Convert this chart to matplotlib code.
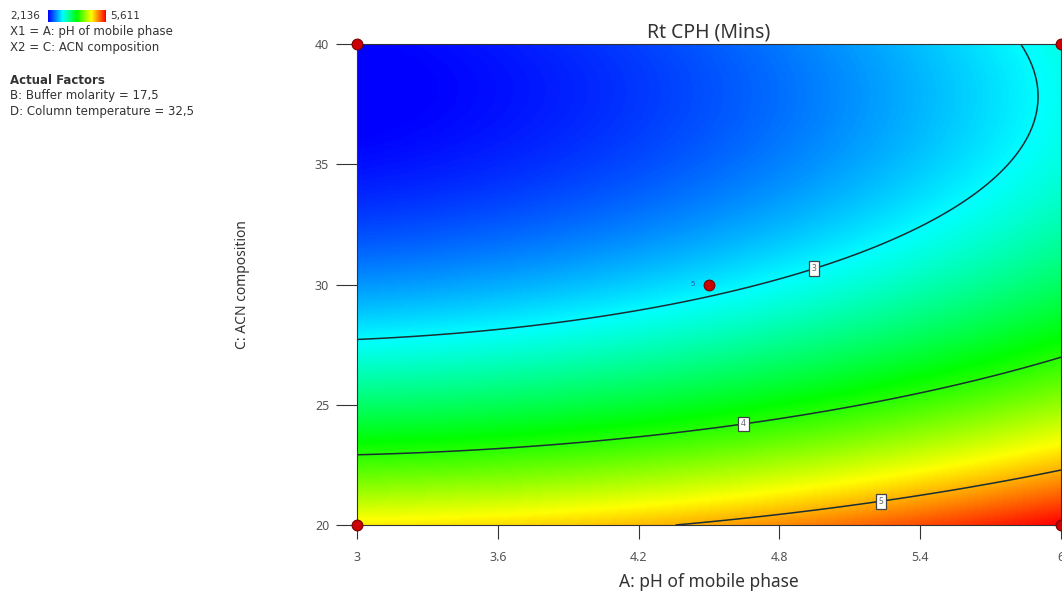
import numpy as np
import matplotlib
matplotlib.use("Agg")
import matplotlib.pyplot as plt
from matplotlib.colors import LinearSegmentedColormap

plt.rcParams['font.family'] = ['Noto Sans', 'DejaVu Sans']

# ---- data ----
title = "Rt CPH (Mins)"
x_label = "A: pH of mobile phase"
y_label = "C: ACN composition"
x_ticks = [3, 3.6, 4.2, 4.8, 5.4, 6]
y_ticks = [20, 25, 30, 35, 40]
resp_min, resp_max = 2.136, 5.611
levels = [3, 4, 5]
label_ph = [4.95, 4.65, 5.23]          # where each contour label sits (pH)

# points (pH, ACN) and response value
c3_ph  = [3.00, 3.66, 4.49, 4.99, 5.44, 5.70, 5.83, 5.90, 5.90, 5.85]
c3_acn = [27.73, 28.02, 29.31, 30.81, 32.68, 34.35, 36.01, 37.67, 38.50, 40.0]
c4_ph  = [3.00, 3.77, 4.65, 6.00]
c4_acn = [22.99, 23.20, 24.32, 26.99]
c5_ph  = [4.39, 5.23, 6.00]
c5_acn = [20.00, 21.16, 22.33]
ext_ph  = [3.0, 6.0]
ext_acn = [40.0, 20.0]
ext_val = [resp_min, resp_max]

# design points
dp_ph  = [3, 6, 3, 6, 4.5]
dp_acn = [40, 40, 20, 20, 30]
center_reps = "5"

legend_lines = ["X1 = A: pH of mobile phase", "X2 = C: ACN composition"]
actual_title = "Actual Factors"
actual_lines = ["B: Buffer molarity = 17,5", "D: Column temperature = 32,5"]

# ---- fit a quadratic response surface through the read points ----
A = np.array(c3_ph + c4_ph + c5_ph + ext_ph)
C = np.array(c3_acn + c4_acn + c5_acn + ext_acn)
Y = np.array([3] * len(c3_ph) + [4] * len(c4_ph) + [5] * len(c5_ph) + ext_val)
W = np.array([1.0] * (len(A) - 2) + [3.0, 3.0])

def design(a, c):
    a = (np.asarray(a) - 4.5) / 1.5
    c = (np.asarray(c) - 30) / 10
    return np.stack([np.ones_like(a), a, c, a * c, a * a, c * c], axis=-1)

coef, *_ = np.linalg.lstsq(design(A, C) * W[:, None], Y * W, rcond=None)

gx = np.linspace(3, 6, 400)
gy = np.linspace(20, 40, 400)
GX, GY = np.meshgrid(gx, gy)
Z = design(GX, GY) @ coef

# ---- figure ----
fig = plt.figure(figsize=(10.62, 5.96), dpi=100)
ax = fig.add_axes([357 / 1062, 71 / 596, 704 / 1062, 481 / 596])

cmap = LinearSegmentedColormap.from_list(
    "de", ["#0000ff", "#00ffff", "#00ff00", "#ffff00", "#ff0000"])
ax.imshow(Z, origin="lower", extent=[3, 6, 20, 40], aspect="auto",
          cmap=cmap, vmin=resp_min, vmax=resp_max, interpolation="bilinear")
cs = ax.contour(GX, GY, Z, levels=levels, colors="#1a2e33", linewidths=1.1)

for lev, segs, lp in zip(levels, cs.allsegs, label_ph):
    pts = np.vstack(segs)
    i = np.argmin(np.abs(pts[:, 0] - lp))
    ax.text(pts[i, 0], pts[i, 1], str(lev), fontsize=6, ha="center", va="center",
            color="#666666",
            bbox=dict(boxstyle="square,pad=0.35", fc="white", ec="#444444", lw=0.9),
            zorder=5)

ax.scatter(dp_ph, dp_acn, s=60, color="#cc0000", edgecolor="#7a0000",
           linewidths=0.8, zorder=6, clip_on=False)
ax.annotate(center_reps, (dp_ph[-1], dp_acn[-1]), xytext=(-12, 0),
            textcoords="offset points", fontsize=5.5, color="#3355aa",
            ha="center", va="center")

ax.set_xlim(3, 6)
ax.set_ylim(20, 40)
ax.set_xticks(x_ticks)
ax.set_xticklabels([f"{t:g}" for t in x_ticks])
ax.set_yticks(y_ticks)
ax.tick_params(axis="x", direction="out", length=10, width=0.8,
               color="#333333", labelsize=9, labelcolor="#555555", pad=9)
ax.tick_params(axis="y", direction="out", length=15, width=0.8,
               color="#333333", labelsize=9, labelcolor="#555555", pad=5)
for s in ax.spines.values():
    s.set_color("#333333")
    s.set_linewidth(0.8)
ax.set_title(title, fontsize=14, color="#333333", pad=5)
ax.set_xlabel(x_label, fontsize=12.5, color="#333333", labelpad=6)
ax.set_ylabel(y_label, fontsize=10, color="#333333", labelpad=47)

# small legend colour bar
cax = fig.add_axes([48 / 1062, 574 / 596, 58 / 1062, 12 / 596])
cax.imshow(np.linspace(0, 1, 200)[None, :], aspect="auto", cmap=cmap)
cax.set_xticks([])
cax.set_yticks([])
for s in cax.spines.values():
    s.set_visible(False)

fs = 8.5
fam = ['DejaVu Sans']
fig.text(10 / 1062, 1 - 16 / 596, f"{resp_min:.3f}".replace(".", ","),
         fontsize=7.5, family=fam, va="center", color="#333333")
fig.text(110 / 1062, 1 - 16 / 596, f"{resp_max:.3f}".replace(".", ","),
         fontsize=7.5, family=fam, va="center", color="#333333")
for k, t in enumerate(legend_lines):
    fig.text(10 / 1062, 1 - (32 + 16 * k) / 596, t, fontsize=fs, family=fam,
             va="center", color="#333333")
fig.text(10 / 1062, 1 - 80 / 596, actual_title, fontsize=fs, family=fam,
         va="center", weight="bold", color="#333333")
for k, t in enumerate(actual_lines):
    fig.text(10 / 1062, 1 - (96 + 16 * k) / 596, t, fontsize=fs, family=fam,
             va="center", color="#333333")

fig.savefig("out.png", dpi=100)
